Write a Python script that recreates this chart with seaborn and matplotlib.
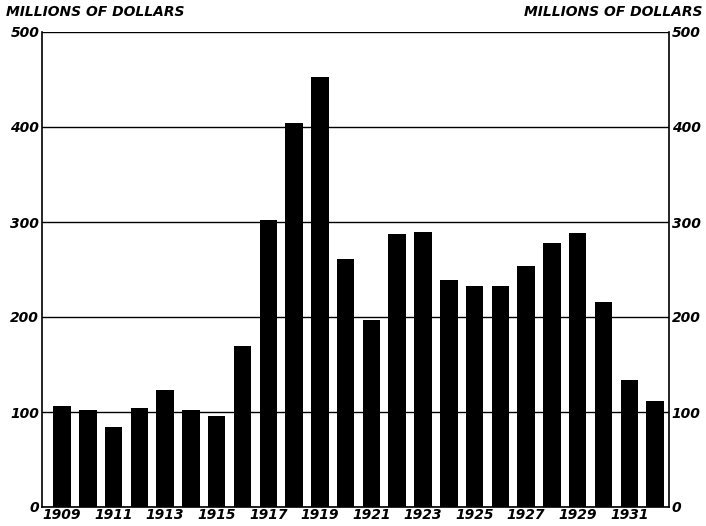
import matplotlib
matplotlib.use('Agg')
import matplotlib.pyplot as plt
import seaborn as sns
import pandas as pd

years = list(range(1909, 1933))
values = [106, 102, 84, 104, 123, 102, 96, 170, 302, 404, 453, 261,
          197, 287, 289, 239, 233, 233, 254, 278, 288, 216, 134, 112]
y_ticks = [0, 100, 200, 300, 400, 500]
unit_label = 'MILLIONS OF DOLLARS'

df = pd.DataFrame({'year': [str(y) for y in years], 'value': values})

sns.set_style('white')
plt.rcParams.update({
    'font.family': ['DejaVu Sans'],
    'text.color': 'black', 'xtick.color': 'black', 'ytick.color': 'black',
    'axes.labelcolor': 'black',
})

fig = plt.figure(figsize=(7.06, 5.26), dpi=100)
ax = fig.add_axes([42 / 706, 19 / 526, 627 / 706, 475 / 526])

sns.barplot(data=df, x='year', y='value', color='black', width=0.68,
            saturation=1, linewidth=0, ax=ax, zorder=3)

ax.set_xlim(-0.775, 23.54)
ax.set_ylim(0, 500)
ax.set_yticks(y_ticks)
ax.yaxis.grid(True, color='black', linewidth=1.0, zorder=0)
ax.set_axisbelow(True)
ax.set_xlabel('')
ax.set_ylabel('')

font = dict(style='italic', weight='bold', size=10, color='black')
ax.set_yticklabels([str(t) for t in y_ticks], **font)
ax.set_xticks(range(0, len(years), 2))
ax.set_xticklabels([str(y) for y in years[::2]], **font)
ax.tick_params(axis='both', length=0, pad=2)
ax.tick_params(axis='x', pad=1)

for side in ['left', 'right', 'bottom']:
    ax.spines[side].set_visible(True)
    ax.spines[side].set_color('black')
    ax.spines[side].set_linewidth(1.2)
ax.spines['top'].set_visible(False)

ax2 = ax.twinx()
ax2.set_ylim(0, 500)
ax2.set_yticks(y_ticks)
ax2.set_yticklabels([str(t) for t in y_ticks], **font)
ax2.tick_params(axis='y', length=0, pad=2)
for s in ax2.spines.values():
    s.set_visible(False)

fig.text(6 / 706, 1 - 12 / 526, unit_label, ha='left', va='center', **font)
fig.text(703 / 706, 1 - 12 / 526, unit_label, ha='right', va='center', **font)

fig.savefig('out.png', dpi=100, facecolor='white')
